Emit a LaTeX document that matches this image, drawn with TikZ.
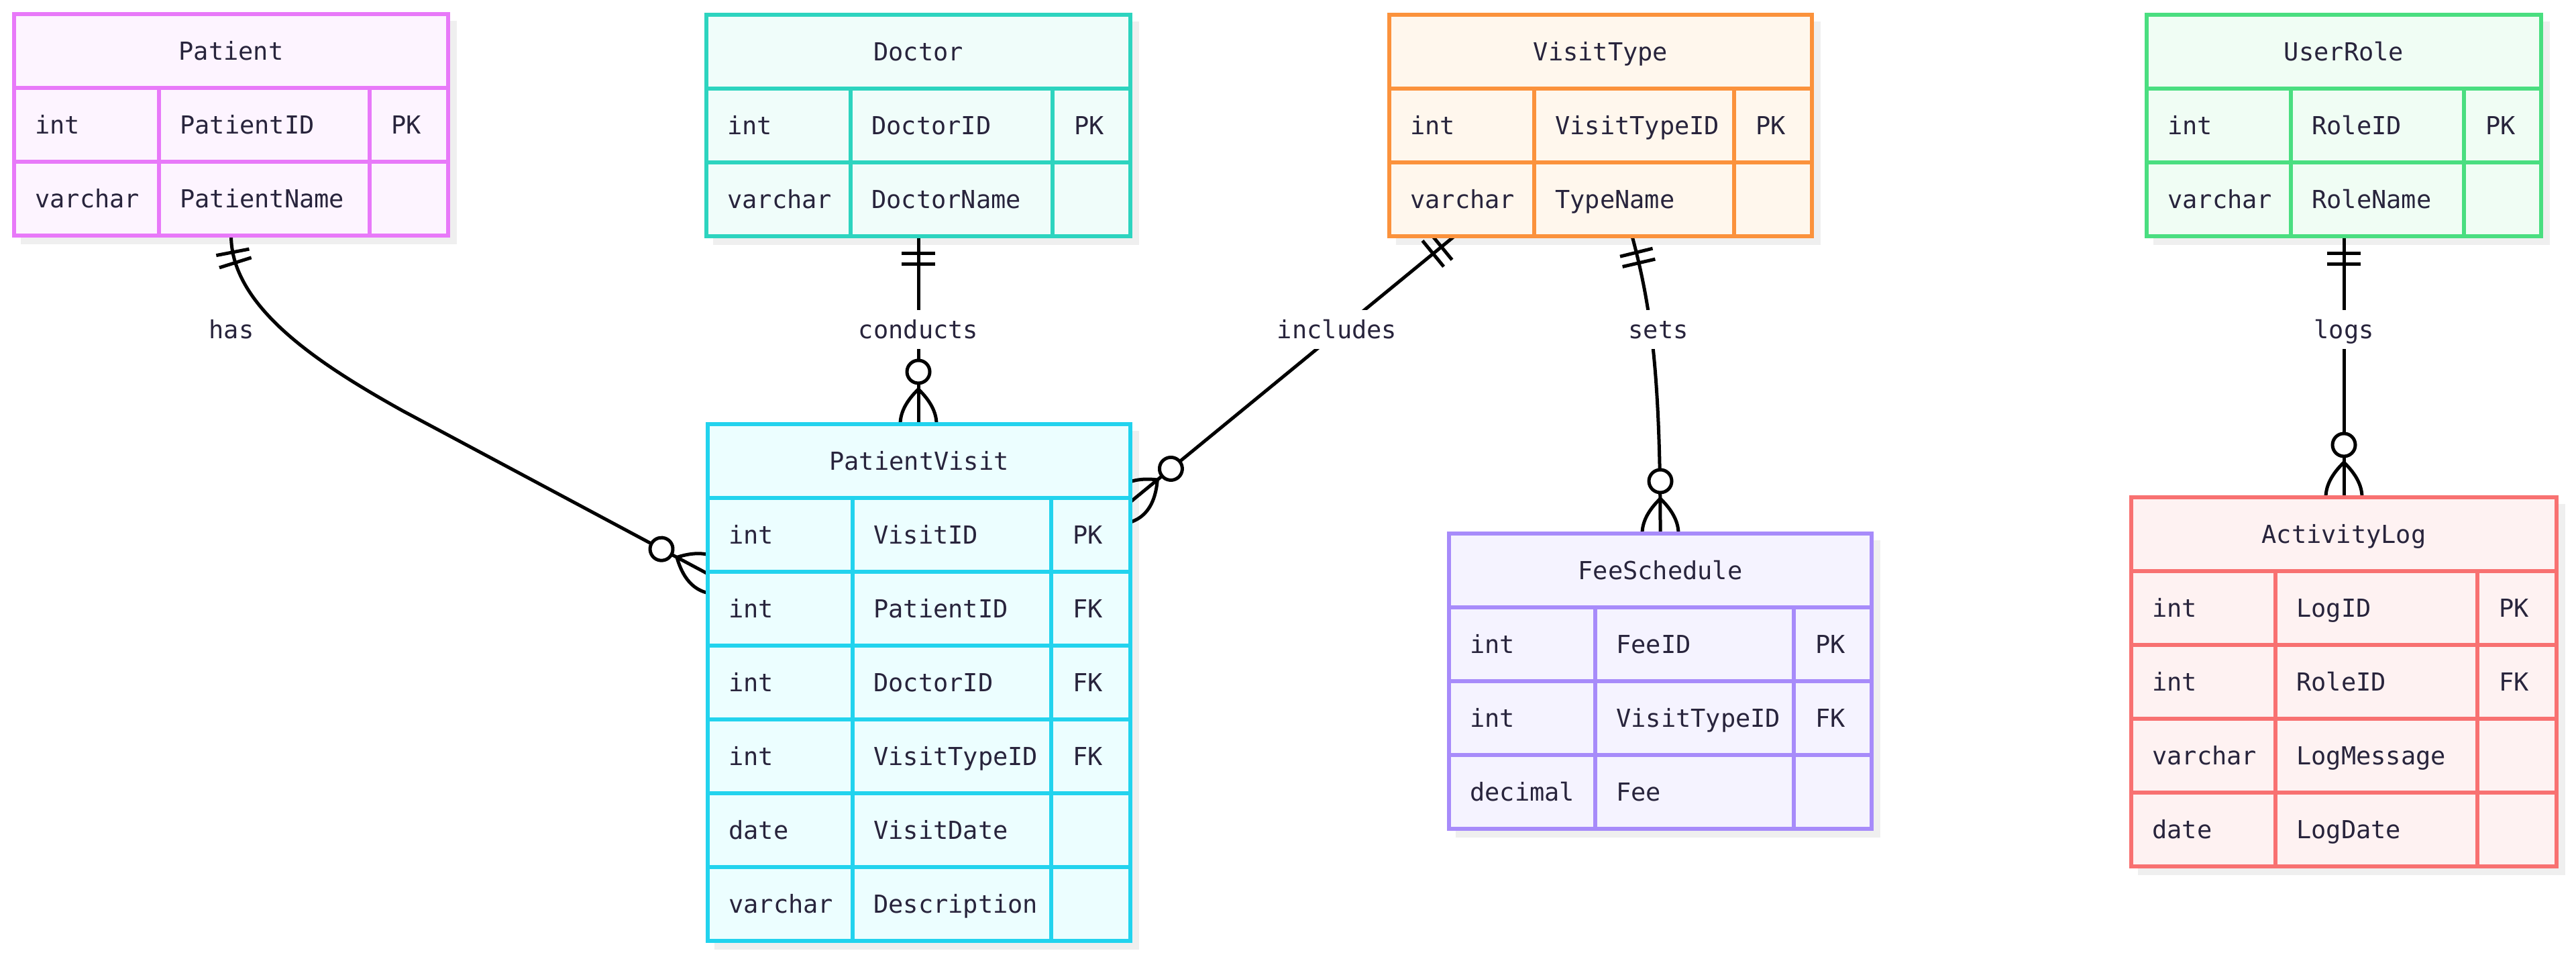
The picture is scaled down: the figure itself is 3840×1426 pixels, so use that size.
\documentclass[tikz,border=0pt]{standalone}
\usepackage{fontspec}
\setmainfont{DejaVu Sans Mono}
\usetikzlibrary{decorations.markings,calc}
\pgfdeclarelayer{bglayer}
\pgfdeclarelayer{shadowlayer}
\pgfdeclarelayer{edgelayer}
\pgfsetlayers{bglayer,shadowlayer,edgelayer,main}

\definecolor{txt}{HTML}{28243C}
\definecolor{shadowcol}{HTML}{EFEFEF}
\definecolor{patline}{HTML}{E879F9}\definecolor{patfill}{HTML}{FDF4FF}
\definecolor{docline}{HTML}{2DD4BF}\definecolor{docfill}{HTML}{F0FDFA}
\definecolor{vtline}{HTML}{FB923C}\definecolor{vtfill}{HTML}{FFF7ED}
\definecolor{urline}{HTML}{4ADE80}\definecolor{urfill}{HTML}{F0FDF4}
\definecolor{pvline}{HTML}{22D3EE}\definecolor{pvfill}{HTML}{ECFEFF}
\definecolor{fsline}{HTML}{A78BFA}\definecolor{fsfill}{HTML}{F5F3FF}
\definecolor{alline}{HTML}{F87171}\definecolor{alfill}{HTML}{FEF2F2}

\tikzset{
  entity/.style={draw, line width=5.5pt, inner sep=0pt, outer sep=0pt},
  gridline/.style={line width=5.5pt},
  celltext/.style={anchor=base west, inner sep=0pt},
  titletext/.style={anchor=base, inner sep=0pt},
  connline/.style={line width=5pt, draw=black},
  rel/.style={connline, postaction={decorate}, decoration={markings,
    mark=at position 25pt with {\draw[connline] (0,-25) -- (0,25);},
    mark=at position 41pt with {\draw[connline] (0,-25) -- (0,25);},
    mark=at position 0.9999 with {%
      \draw[connline, fill=white] (-78,0) circle[radius=17];
      \draw[connline] (-52,0) .. controls (-17.3,36) and (17.3,36) .. (52,0);
      \draw[connline] (-52,0) .. controls (-17.3,-36) and (17.3,-36) .. (52,0);}}},
  rellabel/.style={fill=white, inner xsep=6pt, inner ysep=0pt, text height=27pt, text depth=0pt, minimum height=58pt}
}

% #1 name, #2 left, #3 top, #4 width, #5 col1, #6 col2, #7 colour prefix, #8 title, #9 rows
\newcommand\erbox[9]{%
  \def\nrows{0}%
  \foreach \ta/\tb/\tc in {#9}{\xdef\nrows{\the\numexpr\nrows+1\relax}}%
  \pgfmathsetmacro\boxh{110*(\nrows+1)}%
  \begin{pgfonlayer}{shadowlayer}
    \fill[shadowcol] (#2+10,#3+10) rectangle ++(#4+3,\boxh+3);
  \end{pgfonlayer}
  \node[entity, draw=#7line, fill=#7fill, minimum width=#4pt, minimum height=\boxh pt, anchor=north west] (#1) at (#2,#3) {};
  \node[titletext] (#1-title) at (#2+#4/2, #3+55+13.5) {#8};
  \foreach \ta/\tb/\tc [count=\i] in {#9}{
    \draw[gridline, #7line] (#2,#3+110*\i) -- ++(#4,0);
    \node[celltext] (#1-t-\i) at (#2+31, #3+110*\i+55+13.5) {\ta};
    \node[celltext] (#1-n-\i) at (#2+#5+31, #3+110*\i+55+13.5) {\tb};
    \node[celltext] (#1-k-\i) at (#2+#6+32, #3+110*\i+55+13.5) {\tc};
  }
  \draw[gridline, #7line] (#2+#5, #3+110) -- (#2+#5, #3+\boxh);
  \draw[gridline, #7line] (#2+#6, #3+110) -- (#2+#6, #3+\boxh);
}

\begin{document}
\begin{tikzpicture}[x=1pt, y=-1pt, font=\fontsize{37}{44}\selectfont, text=txt]
\begin{pgfonlayer}{bglayer}
\fill[white] (0,0) rectangle (3840,1426);
\end{pgfonlayer}
\useasboundingbox (0,0) rectangle (3840,1426);

\erbox{Patient}{21}{21}{647}{216}{530}{pat}{Patient}{int/PatientID/PK, varchar/PatientName/{}}
\erbox{Doctor}{1053}{22}{632}{215}{516}{doc}{Doctor}{int/DoctorID/PK, varchar/DoctorName/{}}
\erbox{VT}{2071}{22}{630}{216}{514}{vt}{VisitType}{int/VisitTypeID/PK, varchar/TypeName/{}}
\erbox{UR}{3200}{22}{588}{215}{473}{ur}{UserRole}{int/RoleID/PK, varchar/RoleName/{}}
\erbox{PV}{1055}{632}{630}{216}{512}{pv}{PatientVisit}{int/VisitID/PK, int/PatientID/FK, int/DoctorID/FK, int/VisitTypeID/FK, date/VisitDate/{}, varchar/Description/{}}
\erbox{FS}{2160}{795}{630}{218}{514}{fs}{FeeSchedule}{int/FeeID/PK, int/VisitTypeID/FK, decimal/Fee/{}}
\erbox{AL}{3177}{741}{634}{215}{516}{al}{ActivityLog}{int/LogID/PK, int/RoleID/FK, varchar/LogMessage/{}, date/LogDate/{}}

\begin{pgfonlayer}{edgelayer}
  \draw[rel] (Patient.south) .. controls +(0,108) and (480,545) .. (600,612) -- ($(PV.north west)+(0,223)$);
  \draw[rel] (Doctor.south) -- (Doctor.south |- PV.north);
  \draw[rel] ($(VT.south west)+(97,0)$) -- ($(PV.north east)+(0,116)$);
  \draw[rel] ($(VT.south west)+(362,0)$) .. controls +(29,108) and ($(FS.north)+(0,-235)$) .. (FS.north);
  \draw[rel] (UR.south) -- (UR.south |- AL.north);

  \node[rellabel] (lhas) at (345,491) {has};
  \node[rellabel] (lconducts) at (1369,491) {conducts};
  \node[rellabel] (lincludes) at (1993,491) {includes};
  \node[rellabel] (lsets) at (2472,491) {sets};
  \node[rellabel] (llogs) at (3494,491) {logs};
\end{pgfonlayer}
\end{tikzpicture}
\end{document}
